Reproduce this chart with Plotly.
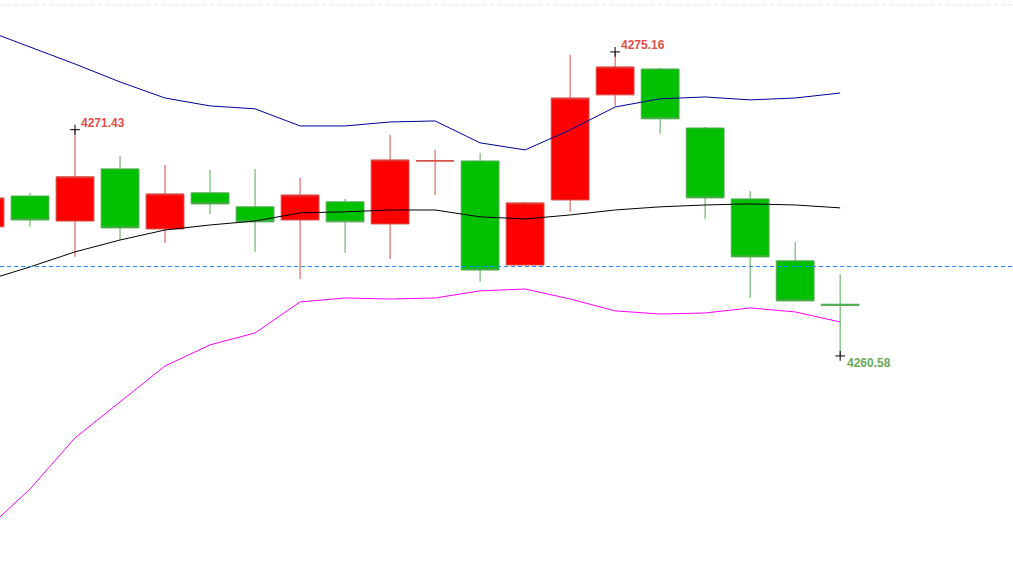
import plotly.graph_objects as go

# ---- data ----
idx = list(range(-1, 19))
opens  = [4266.77, 4268.25, 4267.05, 4269.55, 4266.67, 4268.40, 4267.73, 4267.10, 4267.97, 4266.91,
          4269.93, 4269.93, 4264.94, 4268.06, 4273.10, 4274.34, 4271.51, 4268.11, 4265.14, 4263.06]
highs  = [4268.45, 4268.40, 4271.43, 4270.17, 4269.74, 4269.50, 4269.55, 4269.12, 4268.11, 4271.18,
          4270.46, 4270.32, 4267.97, 4275.02, 4275.16, 4274.39, 4271.56, 4268.49, 4266.05, 4264.51]
lows   = [4266.50, 4266.77, 4265.33, 4266.14, 4266.00, 4267.39, 4265.57, 4264.27, 4265.52, 4265.23,
          4268.30, 4264.13, 4264.94, 4267.49, 4272.57, 4271.23, 4267.15, 4263.36, 4263.22, 4260.58]
closes = [4268.16, 4267.10, 4269.17, 4266.72, 4268.35, 4267.87, 4267.01, 4268.30, 4267.01, 4269.98,
          4269.94, 4264.70, 4267.92, 4272.95, 4274.44, 4271.95, 4268.16, 4265.33, 4263.22, 4263.01]

bb_upper = [4276.21, 4275.40, 4274.58, 4273.72, 4272.95, 4272.57, 4272.43, 4271.61, 4271.61, 4271.80,
            4271.85, 4270.80, 4270.46, 4271.42, 4272.52, 4272.91, 4273.00, 4272.86, 4272.95, 4273.19]
bb_mid   = [4264.18, 4264.85, 4265.57, 4266.14, 4266.62, 4266.86, 4267.05, 4267.44, 4267.49, 4267.58,
            4267.58, 4267.25, 4267.15, 4267.34, 4267.58, 4267.73, 4267.82, 4267.87, 4267.82, 4267.68]
bb_lower = [4252.19, 4254.20, 4256.65, 4258.37, 4260.10, 4261.11, 4261.68, 4263.17, 4263.36, 4263.31,
            4263.36, 4263.70, 4263.79, 4263.31, 4262.74, 4262.59, 4262.64, 4262.88, 4262.69, 4262.21]

bid_line = 4264.87
top_line = 4277.41

hi1_idx, hi1_val = 1, 4271.43
hi2_idx, hi2_val = 13, 4275.16
lo_idx, lo_val = 18, 4260.58

fig = go.Figure()

fig.add_trace(go.Scatter(x=idx, y=bb_upper, mode="lines",
                         line=dict(color="#000099", width=1), hoverinfo="skip"))
fig.add_trace(go.Scatter(x=idx, y=bb_mid, mode="lines",
                         line=dict(color="#000000", width=1), hoverinfo="skip"))
fig.add_trace(go.Scatter(x=idx, y=bb_lower, mode="lines",
                         line=dict(color="#ff00ff", width=1), hoverinfo="skip"))

fig.add_trace(go.Candlestick(
    x=idx, open=opens, high=highs, low=lows, close=closes,
    increasing=dict(fillcolor="#ff0000", line=dict(color="#d64a44", width=1)),
    decreasing=dict(fillcolor="#00c000", line=dict(color="#55a855", width=1)),
    whiskerwidth=0, hoverinfo="skip"))

fig.add_trace(go.Scatter(x=[hi1_idx, hi2_idx, lo_idx], y=[hi1_val, hi2_val, lo_val],
                         mode="markers",
                         marker=dict(symbol="cross-thin", size=7,
                                     line=dict(color="#000000", width=1)),
                         hoverinfo="skip"))

fig.add_shape(type="line", xref="paper", x0=0, x1=1, yref="y", y0=bid_line, y1=bid_line,
              line=dict(color="#1e88ff", width=1, dash="4px,3px"))
fig.add_shape(type="line", xref="paper", x0=0, x1=1, yref="y", y0=top_line, y1=top_line,
              line=dict(color="#e6e6e6", width=1, dash="4px,3px"))

fnt = dict(family="Arial, Liberation Sans, sans-serif", size=12)
fig.add_annotation(x=hi1_idx, y=hi1_val, text="<b>%.2f</b>" % hi1_val, showarrow=False,
                   xanchor="left", yanchor="middle", xshift=4, yshift=7,
                   font=dict(color="#e0504a", **fnt))
fig.add_annotation(x=hi2_idx, y=hi2_val, text="<b>%.2f</b>" % hi2_val, showarrow=False,
                   xanchor="left", yanchor="middle", xshift=4, yshift=7,
                   font=dict(color="#e0504a", **fnt))
fig.add_annotation(x=lo_idx, y=lo_val, text="<b>%.2f</b>" % lo_val, showarrow=False,
                   xanchor="left", yanchor="middle", xshift=5, yshift=-7,
                   font=dict(color="#6aa85a", **fnt))

fig.update_layout(
    width=1013, height=583,
    margin=dict(l=0, r=0, t=0, b=0),
    paper_bgcolor="#ffffff", plot_bgcolor="#ffffff",
    showlegend=False, boxgap=0.16, boxgroupgap=0,
    xaxis=dict(visible=False, range=[-0.667, 21.84], rangeslider=dict(visible=False),
               fixedrange=True),
    yaxis=dict(visible=False, range=[4249.69, 4277.65], fixedrange=True),
)

fig.write_html("out.html",
               config={"displayModeBar": False},
               post_script="document.body.style.margin='0';document.body.style.overflow='hidden';")
